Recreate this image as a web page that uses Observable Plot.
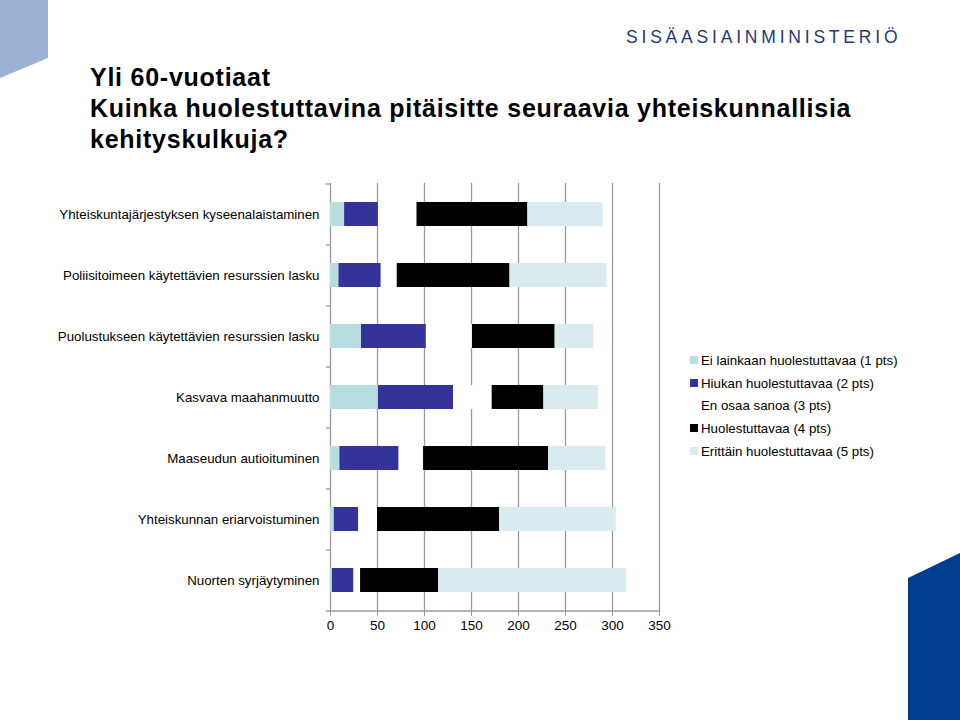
<!DOCTYPE html>
<html>
<head>
<meta charset="utf-8">
<script src="https://cdn.jsdelivr.net/npm/d3@7"></script>
<script src="https://cdn.jsdelivr.net/npm/@observablehq/plot@0.6"></script>
<style>
  html, body { margin: 0; padding: 0; background: #fff; }
  #page { position: relative; width: 960px; height: 720px; overflow: hidden; font-family: "Liberation Sans", Arial, sans-serif; }
  #title { position: absolute; left: 90px; top: 62px; font-size: 25px; letter-spacing: 0.75px; font-weight: bold; line-height: 31px; color: #000; white-space: nowrap; }
  #logo { position: absolute; left: 626px; top: 27px; font-size: 17.5px; letter-spacing: 3.8px; color: #1e3a78; white-space: nowrap; }
  #chart { position: absolute; left: 0; top: 170px; }
  #legend { position: absolute; left: 690px; top: 349px; font-size: 13.3px; color: #000; }
  .li { height: 22.7px; display: flex; align-items: center; white-space: nowrap; }
  .sw { width: 8px; height: 8px; margin-right: 3px; flex: none; }
  #deco1 { position: absolute; left: 0; top: 0; }
</style>
</head>
<body>
<div id="page">
  <svg id="deco1" width="960" height="720">
    <polygon points="0,0 48,0 48,58 0,78" fill="#9db1d2"/>
    <polygon points="908,578 960,553 960,720 908,720" fill="#003d8d"/>
  </svg>
  <div id="logo">SISÄASIAINMINISTERIÖ</div>
  <div id="title">Yli 60-vuotiaat<br>Kuinka huolestuttavina pitäisitte seuraavia yhteiskunnallisia<br>kehityskulkuja?</div>
  <div id="chart"></div>
  <div id="legend"></div>
</div>
<script>
const categories = [
  "Yhteiskuntajärjestyksen kyseenalaistaminen",
  "Poliisitoimeen käytettävien resurssien lasku",
  "Puolustukseen käytettävien resurssien lasku",
  "Kasvava maahanmuutto",
  "Maaseudun autioituminen",
  "Yhteiskunnan eriarvoistuminen",
  "Nuorten syrjäytyminen"
];
const levels = [
  "Ei lainkaan huolestuttavaa (1 pts)",
  "Hiukan huolestuttavaa (2 pts)",
  "En osaa sanoa (3 pts)",
  "Huolestuttavaa (4 pts)",
  "Erittäin huolestuttavaa (5 pts)"
];
const levelColors = ["#b7dde1", "#333399", "#ffffff", "#000000", "#d9ebef"];
const eiLainkaan = [15, 9, 33, 51, 10, 4, 2];
const hiukan     = [36, 45, 69, 80, 63, 26, 23];
const enOsaa     = [41, 17, 49, 41, 26, 20, 7];
const huol       = [118, 120, 88, 55, 133, 130, 83];
const erittain   = [80, 103, 41, 58, 61, 124, 200];
const xTicks = [0, 50, 100, 150, 200, 250, 300, 350];

const series = [eiLainkaan, hiukan, enOsaa, huol, erittain];
const data = [];
levels.forEach((lv, i) => categories.forEach((c, j) => data.push({category: c, level: lv, value: series[i][j]})));

const grid = "#9a9a9a";
const chart = Plot.plot({
  width: 680,
  height: 471,
  marginTop: 13,
  marginBottom: 30,
  marginLeft: 330,
  marginRight: 21,
  style: {fontFamily: "Liberation Sans, Arial, sans-serif", fontSize: "13.3px", color: "#000", background: "transparent"},
  x: {domain: [0, 350], ticks: xTicks},
  y: {domain: categories, paddingInner: 0.6, paddingOuter: 0.3},
  color: {domain: levels, range: levelColors},
  marks: [
    Plot.gridX(xTicks, {stroke: grid, strokeOpacity: 1, strokeWidth: 1.3}),
    Plot.barX(data, Plot.stackX({y: "category", x: "value", fill: "level", order: levels})),
    Plot.ruleY(categories, {y: d => d, dy: -30.5, x1: -4.5, x2: 0, stroke: grid, strokeWidth: 1.3}),
    Plot.ruleY([categories[categories.length - 1]], {y: d => d, dy: 30.5, x1: -4.5, x2: 350, stroke: grid, strokeWidth: 1.3}),
    Plot.axisX({ticks: xTicks, tickSize: 5, tickPadding: 4, stroke: grid, strokeOpacity: 1, fontSize: 13.5, label: null}),
    Plot.axisY({tickSize: 0, tickPadding: 11, fontSize: 13.3, label: null})
  ]
});
document.getElementById("chart").appendChild(chart);

const legend = document.getElementById("legend");
levels.forEach((lv, i) => {
  const row = document.createElement("div");
  row.className = "li";
  const sw = document.createElement("span");
  sw.className = "sw";
  sw.style.background = levelColors[i];
  const t = document.createElement("span");
  t.textContent = lv;
  row.appendChild(sw);
  row.appendChild(t);
  legend.appendChild(row);
});
</script>
</body>
</html>
